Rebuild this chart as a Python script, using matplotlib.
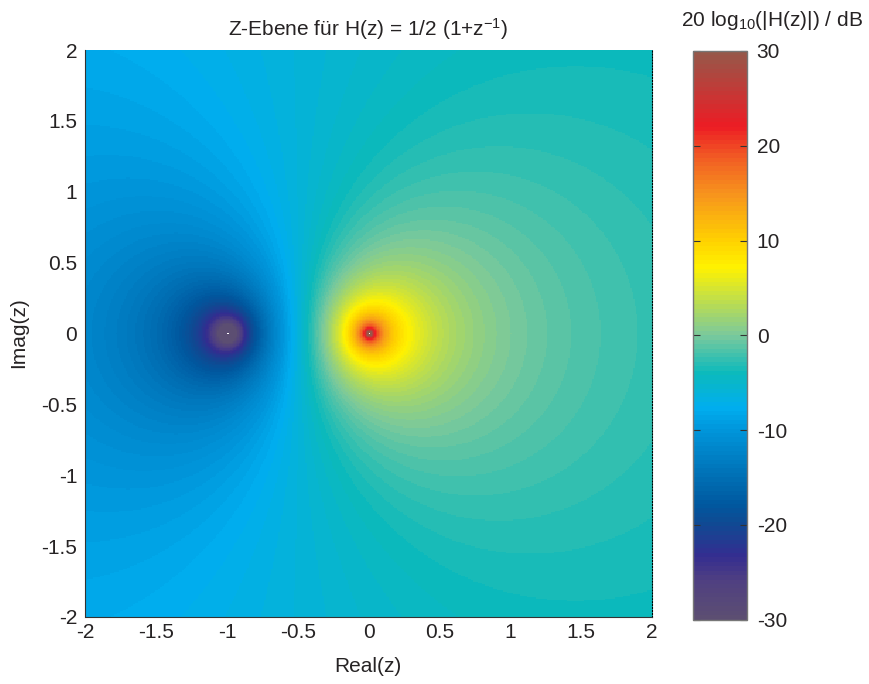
import numpy as np
import matplotlib
matplotlib.use("Agg")
import matplotlib.pyplot as plt
from matplotlib.colors import LinearSegmentedColormap

# H(z) = gain * (z - zero) / (z - pole), as given in the chart title
gain = 0.5
zero = -1.0
pole = 0.0
re_hundredths = np.arange(-200, 201)
im_hundredths = np.arange(-200, 201)

ticks = [-2, -1.5, -1, -0.5, 0, 0.5, 1, 1.5, 2]
tick_labels = ["-2", "-1.5", "-1", "-0.5", "0", "0.5", "1", "1.5", "2"]
cbar_ticks = [-30, -20, -10, 0, 10, 20, 30]
cbar_labels = ["-30", "-20", "-10", "0", "10", "20", "30"]

# colour bar stops
db_stops = [-30, -26, -23.5, -20, -18, -15, -10, -7.7, -4, 0, 7.2, 10, 15, 19, 22.2, 30]
color_stops = ["#5c4e72", "#4f3f82", "#342d90", "#0f4a93", "#00589f", "#0070b5", "#0096db",
               "#00aeef", "#0cbabc", "#7bc99c", "#fff200", "#ffd200", "#f7941d", "#f15a24",
               "#ed1c24", "#96584a"]

plt.rcParams["font.family"] = ["Liberation Sans", "DejaVu Sans"]
plt.rcParams["font.size"] = 15
plt.rcParams["axes.unicode_minus"] = False
plt.rcParams["mathtext.default"] = "regular"
plt.rcParams["mathtext.fontset"] = "custom"
plt.rcParams["mathtext.rm"] = "Liberation Sans"
TEXT = "#262324"
W, H = 870, 684

pos = [(d + 30) / 60 for d in db_stops]
cmap = LinearSegmentedColormap.from_list("hz", list(zip(pos, color_stops)), N=128)
cmap.set_bad("white")

x, y = np.meshgrid(re_hundredths / 100, im_hundredths / 100)
z = x + 1j * y
with np.errstate(divide="ignore", invalid="ignore"):
    mag = 20 * np.log10(np.abs(gain * (z - zero) / (z - pole)))
mag[~np.isfinite(mag)] = np.nan

fig = plt.figure(figsize=(W / 100, H / 100), dpi=100)
ax = fig.add_axes([85.5 / W, (H - 617) / H, 566.5 / W, 567 / H])
im = ax.imshow(mag, origin="lower", extent=[-2, 2, -2, 2], cmap=cmap, vmin=-30, vmax=30,
               interpolation="nearest", aspect="auto")
ax.set_xticks(ticks)
ax.set_xticklabels(tick_labels)
ax.set_yticks(ticks)
ax.set_yticklabels(tick_labels)
ax.tick_params(length=0, colors=TEXT)
ax.tick_params(axis="x", pad=4)
ax.tick_params(axis="y", pad=6)
ax.spines["top"].set_visible(False)
ax.spines["right"].set_linestyle(":")
ax.spines["right"].set_linewidth(0.8)
for s in ["left", "bottom"]:
    ax.spines[s].set_color("#333333")
    ax.spines[s].set_linewidth(0.8)
fig.text(368 / W, 1 - 666 / H, "Real(z)", color=TEXT, ha="center", va="center")
fig.text(19 / W, 1 - 333 / H, "Imag(z)", color=TEXT, ha="center", va="center", rotation=90)
fig.text(368 / W, 1 - 29 / H, "Z-Ebene für H(z) = 1/2 (1+z$^{-1}$)", color=TEXT,
         ha="center", va="center")

cax = fig.add_axes([693.5 / W, (H - 619.5) / H, 53.5 / W, 568.5 / H])
cb = fig.colorbar(im, cax=cax)
cb.set_ticks(cbar_ticks)
cb.set_ticklabels(cbar_labels)
cax.tick_params(axis="y", direction="in", left=True, right=True, length=5, width=0.8,
                color="#333333", labelcolor=TEXT, pad=7)
cb.outline.set_edgecolor("#777777")
cb.outline.set_linewidth(1.0)
fig.text(772 / W, 1 - 20 / H, "20 log$_{10}$(|H(z)|) / dB", ha="center", va="center",
         color=TEXT)

fig.savefig("out.png", dpi=100)
